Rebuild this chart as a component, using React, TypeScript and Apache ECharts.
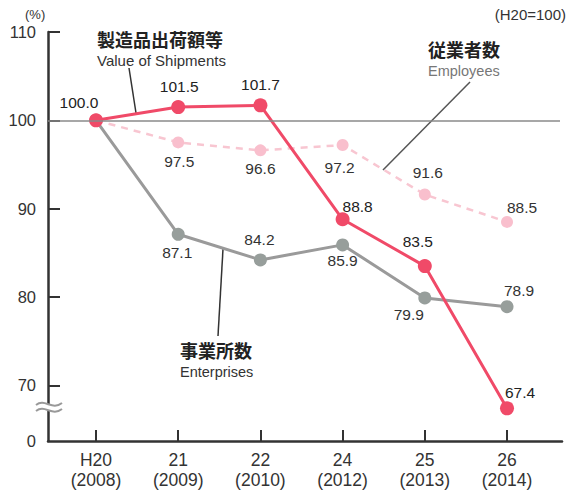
import React, { useEffect, useRef } from "react";
import * as echarts from "echarts";

const categories = ["H20\n(2008)", "21\n(2009)", "22\n(2010)", "24\n(2012)", "25\n(2013)", "26\n(2014)"];
const shipments = [100.0, 101.5, 101.7, 88.8, 83.5, 67.4];
const employees = [100.0, 97.5, 96.6, 97.2, 91.6, 88.5];
const enterprises = [100.0, 87.1, 84.2, 85.9, 79.9, 78.9];
const yTicks = [63.7, 70, 80, 90, 100, 110];
const yTickLabels = ["0", "70", "80", "90", "100", "110"];

const shipOffsets = [[-17, -18], [1, -21], [0, -21], [15, -13], [-7, -25], [13, -16]];
const empOffsets = [[0, 0], [1, 19], [0, 18], [-3, 22], [3, -22], [15, -14]];
const entOffsets = [[0, 0], [-1, 18], [-1, -20], [0, 16], [-16, 17], [12, -16]];

const LATIN = "'Liberation Sans', Arial, sans-serif";
const CJK = "'Noto Sans CJK JP', sans-serif";

function mk(values: number[], offsets: number[][], skipFirst: boolean, color: string) {
  return values.map((v, i) => ({
    value: [i, v],
    label: {
      show: !(skipFirst && i === 0),
      position: "inside",
      offset: offsets[i],
      formatter: () => v.toFixed(1),
      color,
    },
  }));
}

export default function App() {
  const ref = useRef<HTMLDivElement>(null);
  useEffect(() => {
    if (!ref.current) return;
    const chart = echarts.init(ref.current, undefined, { renderer: "svg" });
    const labelFont = { fontFamily: LATIN, fontSize: 15.5 };
    chart.setOption({
      animation: false,
      grid: { left: 48, right: 10, top: 32, bottom: 47 },
      xAxis: {
        type: "value",
        min: -0.584,
        max: 5.669,
        splitLine: { show: false },
        axisLine: { show: true, onZero: false, lineStyle: { color: "#333", width: 2.5 } },
        axisTick: { show: true, inside: true, length: 11, lineStyle: { color: "#333", width: 2 }, customValues: [0, 1, 2, 3, 4, 5] },
        axisLabel: {
          customValues: [0, 1, 2, 3, 4, 5],
          formatter: (v: number) => categories[Math.round(v)] ?? "",
          fontFamily: LATIN,
          fontSize: 17.5,
          lineHeight: 20,
          color: "#333",
          margin: 9,
        },
      },
      yAxis: {
        type: "value",
        min: 63.7,
        max: 110,
        splitLine: { show: false },
        axisLine: { show: true, onZero: false, lineStyle: { color: "#333", width: 2.5 } },
        axisTick: { show: true, inside: true, length: 12, lineStyle: { color: "#333", width: 2 }, customValues: yTicks.slice(1) },
        axisLabel: {
          customValues: yTicks,
          formatter: (v: number) => {
            const idx = yTicks.findIndex((t) => Math.abs(t - v) < 0.01);
            return idx >= 0 ? yTickLabels[idx] : "";
          },
          fontFamily: LATIN,
          fontSize: 16.5,
          color: "#333",
          margin: 12,
        },
      },
      series: [
        {
          type: "line",
          z: 2,
          data: mk(employees, empOffsets, true, "#333"),
          symbol: "circle",
          symbolSize: 12,
          itemStyle: { color: "#F9BFCD" },
          lineStyle: { color: "#F8C6D1", width: 2.5, type: [7, 6] },
          label: labelFont,
          markLine: {
            silent: true,
            symbol: ["none", "none"],
            label: { show: false },
            lineStyle: { color: "#8a8a8a", width: 1.5, type: "solid" },
            data: [[{ coord: [-0.584, 100] }, { coord: [5.645, 100] }]],
          },
        },
        {
          type: "line",
          z: 3,
          data: mk(enterprises, entOffsets, true, "#333"),
          symbol: "circle",
          symbolSize: 13,
          itemStyle: { color: "#979e9b" },
          lineStyle: { color: "#9a9a9a", width: 3 },
          label: labelFont,
        },
        {
          type: "line",
          z: 4,
          data: mk(shipments, shipOffsets, false, "#222"),
          symbol: "circle",
          symbolSize: 14,
          itemStyle: { color: "#F04A68" },
          lineStyle: { color: "#F04A68", width: 3 },
          label: labelFont,
        },
      ],
      graphic: [
        { type: "rect", z: 10, shape: { x: 44, y: 404, width: 9, height: 6 }, style: { fill: "#fff" } },
        { type: "bezierCurve", z: 11, shape: { x1: 36, y1: 405, cpx1: 45, cpy1: 398, cpx2: 52, cpy2: 411, x2: 62, y2: 403 }, style: { stroke: "#999", lineWidth: 2, fill: null } },
        { type: "bezierCurve", z: 11, shape: { x1: 36, y1: 411, cpx1: 45, cpy1: 404, cpx2: 52, cpy2: 417, x2: 62, y2: 409 }, style: { stroke: "#999", lineWidth: 2, fill: null } },
        { type: "text", left: 25, top: 8, style: { text: "(%)", font: `13px ${LATIN}`, fill: "#333" } },
        { type: "text", right: 6, top: 7, style: { text: "(H20=100)", font: `15px ${LATIN}`, fill: "#333" } },
        { type: "text", x: 97, y: 38.5, style: { text: "製造品出荷額等", font: `bold 18px ${CJK}`, fill: "#222", verticalAlign: "middle" } },
        { type: "text", x: 97, y: 60.5, style: { text: "Value of Shipments", font: `15px ${LATIN}`, fill: "#333", verticalAlign: "middle" } },
        { type: "line", shape: { x1: 129, y1: 68, x2: 136, y2: 113 }, style: { stroke: "#333", lineWidth: 1.5 } },
        { type: "text", x: 428, y: 49, style: { text: "従業者数", font: `bold 18px ${CJK}`, fill: "#222", verticalAlign: "middle" } },
        { type: "text", x: 428, y: 71, style: { text: "Employees", font: `14.5px ${LATIN}`, fill: "#777", verticalAlign: "middle" } },
        { type: "line", shape: { x1: 470, y1: 82, x2: 383, y2: 170 }, style: { stroke: "#555", lineWidth: 1.5 } },
        { type: "text", x: 180, y: 350, style: { text: "事業所数", font: `bold 18px ${CJK}`, fill: "#222", verticalAlign: "middle" } },
        { type: "text", x: 180, y: 372, style: { text: "Enterprises", font: `14.5px ${LATIN}`, fill: "#333", verticalAlign: "middle" } },
        { type: "line", shape: { x1: 223, y1: 249, x2: 218, y2: 336 }, style: { stroke: "#333", lineWidth: 1.5 } },
      ],
    });
    return () => chart.dispose();
  }, []);
  return <div ref={ref} style={{ width: 572, height: 490, position: "absolute", left: 0, top: 0 }} />;
}
